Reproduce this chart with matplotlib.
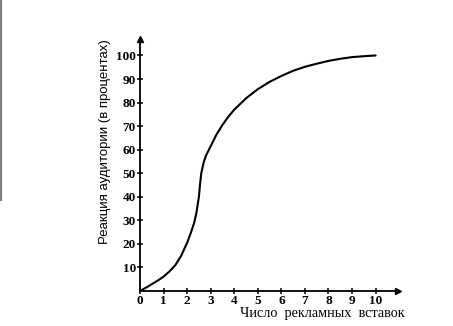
import matplotlib
matplotlib.use("Agg")
import matplotlib.pyplot as plt
from matplotlib.lines import Line2D

# Response of the audience vs. number of ad insertions
insertions = [0, 0.25, 0.5, 0.75, 1.0, 1.25, 1.5, 1.75, 2.0, 2.15, 2.3, 2.4, 2.5, 2.55,
              2.6, 2.7, 2.8, 3.0, 3.25, 3.5, 3.75, 4.0, 4.5, 5.0, 5.5, 6.0, 6.5,
              7.0, 7.5, 8.0, 8.5, 9.0, 9.5, 10.0]
response = [0, 1.4, 2.9, 4.4, 6.1, 8.3, 11.0, 15.0, 20.5, 24.5, 29.0, 33.5, 40.0, 45.5,
            50.0, 54.5, 57.5, 61.5, 66.5, 70.5, 74.0, 77.0, 81.8, 85.7, 88.8, 91.3, 93.5,
            95.2, 96.5, 97.7, 98.6, 99.3, 99.7, 100.0]

x_ticks = list(range(0, 11))
y_ticks = list(range(10, 101, 10))

W, H = 453, 326
fig = plt.figure(figsize=(W / 100, H / 100), dpi=100)
fig.patch.set_facecolor("white")

x_max, y_max = 10.95, 107
ax = fig.add_axes([140 / W, 1 - 291 / H, 258 / W, 252 / H])
ax.set_xlim(0, x_max)
ax.set_ylim(0, y_max)

ax.plot(insertions, response, color="black", lw=1.5, solid_capstyle="round",
        solid_joinstyle="round")

for s in ("top", "right"):
    ax.spines[s].set_visible(False)
for s in ("left", "bottom"):
    ax.spines[s].set_linewidth(1.3)

# arrow heads at the ends of the axes
ax.plot([x_max], [0], marker=">", color="black", ms=5, clip_on=False)
ax.plot([0], [y_max], marker="^", color="black", ms=5, clip_on=False)

serif = ["Liberation Serif", "DejaVu Serif"]
sans = ["Liberation Sans", "DejaVu Sans"]
ax.set_xticks(x_ticks)
ax.set_xticklabels([str(v) for v in x_ticks], family=serif, fontsize=9.5, fontweight="bold")
ax.set_yticks(y_ticks)
ax.set_yticklabels([str(v) for v in y_ticks], family=serif, fontsize=9.5, fontweight="bold")
ax.tick_params(axis="both", direction="inout", length=4, width=1.1, pad=1.0, color="black")

fig.text(405 / W, 1 - 314 / H, "Число  рекламных  вставок", ha="right", va="center",
         family=serif, fontsize=10.3)
fig.text(105 / W, 1 - 142 / H, "Реакция аудитории (в процентах)", ha="center", va="center",
         rotation=90, family=sans, fontsize=9.5)

# scan edge on the left border
fig.add_artist(Line2D([0.8 / W, 0.8 / W], [1, 1 - 200 / H], color="#808080", lw=1.6,
                      transform=fig.transFigure))

fig.savefig("out.png", dpi=100, facecolor="white")
